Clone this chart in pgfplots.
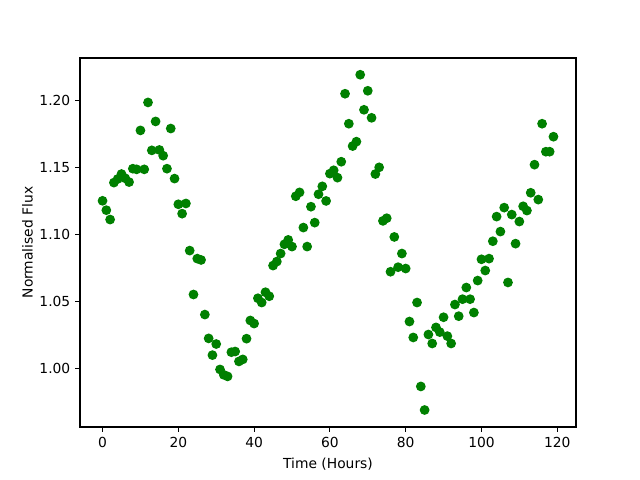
\documentclass[border=0pt]{standalone}
\usepackage{pgfplots}
\pgfplotsset{compat=1.18}
\usepackage{fontspec}
\setmainfont{DejaVu Sans}
\definecolor{mplgreen}{HTML}{008000}
\begin{document}
\begin{tikzpicture}
\begin{axis}[
  at={(0,0)}, anchor=south west,
  scale only axis,
  width=4.96in, height=3.69in,
  xmin=-5.95, xmax=124.95,
  ymin=0.956, ymax=1.2317,
  xtick={0,20,40,60,80,100,120},
  ytick={1.00,1.05,1.10,1.15,1.20},
  yticklabel style={/pgf/number format/fixed,/pgf/number format/fixed zerofill,/pgf/number format/precision=2},
  /pgf/number format/assume math mode=true,
  tick align=outside, tick pos=left,
  major tick length=3.5pt,
  every tick/.style={black, line width=0.8pt},
  axis line style={line width=0.8pt},
  ticklabel style={font=\fontsize{10}{12}\selectfont},
  label style={font=\fontsize{10}{12}\selectfont},
  xlabel={Time (Hours)},
  ylabel={Normalised Flux},
  xlabel style={yshift=-1pt},
  ylabel style={yshift=-2pt},
]
\addplot[only marks, mark=*, mark size=3pt, color=mplgreen, mark options={draw=mplgreen, fill=mplgreen, line width=1pt}] coordinates {
(0,1.125)(1,1.118)(2,1.111)(3,1.1386)(4,1.1413)(5,1.145)(6,1.1418)(7,1.139)(8,1.149)(9,1.1485)
(10,1.1776)(11,1.1485)(12,1.1985)(13,1.1627)(14,1.1843)(15,1.163)(16,1.1587)(17,1.149)(18,1.179)(19,1.1416)
(20,1.1224)(21,1.1154)(22,1.123)(23,1.0878)(24,1.055)(25,1.0818)(26,1.0808)(27,1.040)(28,1.0222)(29,1.0097)
(30,1.018)(31,0.999)(32,0.995)(33,0.9938)(34,1.0119)(35,1.0124)(36,1.005)(37,1.0065)(38,1.022)(39,1.0356)
(40,1.0333)(41,1.0522)(42,1.049)(43,1.0567)(44,1.0537)(45,1.0766)(46,1.0796)(47,1.0856)(48,1.0925)(49,1.0958)
(50,1.0908)(51,1.1284)(52,1.1313)(53,1.105)(54,1.0908)(55,1.1206)(56,1.1087)(57,1.1299)(58,1.1358)(59,1.1249)
(60,1.1453)(61,1.1478)(62,1.1423)(63,1.1542)(64,1.205)(65,1.1826)(66,1.1659)(67,1.1692)(68,1.2192)(69,1.193)
(70,1.2072)(71,1.187)(72,1.145)(73,1.150)(74,1.110)(75,1.112)(76,1.072)(77,1.098)(78,1.0754)(79,1.0856)
(80,1.0744)(81,1.0348)(82,1.0229)(83,1.049)(84,0.9863)(85,0.9687)(86,1.0251)(87,1.0184)(88,1.0304)(89,1.0269)
(90,1.038)(91,1.0239)(92,1.0184)(93,1.0475)(94,1.0388)(95,1.0515)(96,1.0602)(97,1.0515)(98,1.0415)(99,1.0654)
(100,1.0813)(101,1.0729)(102,1.0818)(103,1.0948)(104,1.1132)(105,1.102)(106,1.1199)(107,1.064)(108,1.1147)(109,1.093)
(110,1.1095)(111,1.1209)(112,1.1177)(113,1.131)(114,1.152)(115,1.1259)(116,1.1826)(117,1.1617)(118,1.1617)(119,1.1729)
};
\end{axis}
\path[use as bounding box] (-0.8in,-0.53in) rectangle (5.6in,4.27in);
\end{tikzpicture}
\end{document}
